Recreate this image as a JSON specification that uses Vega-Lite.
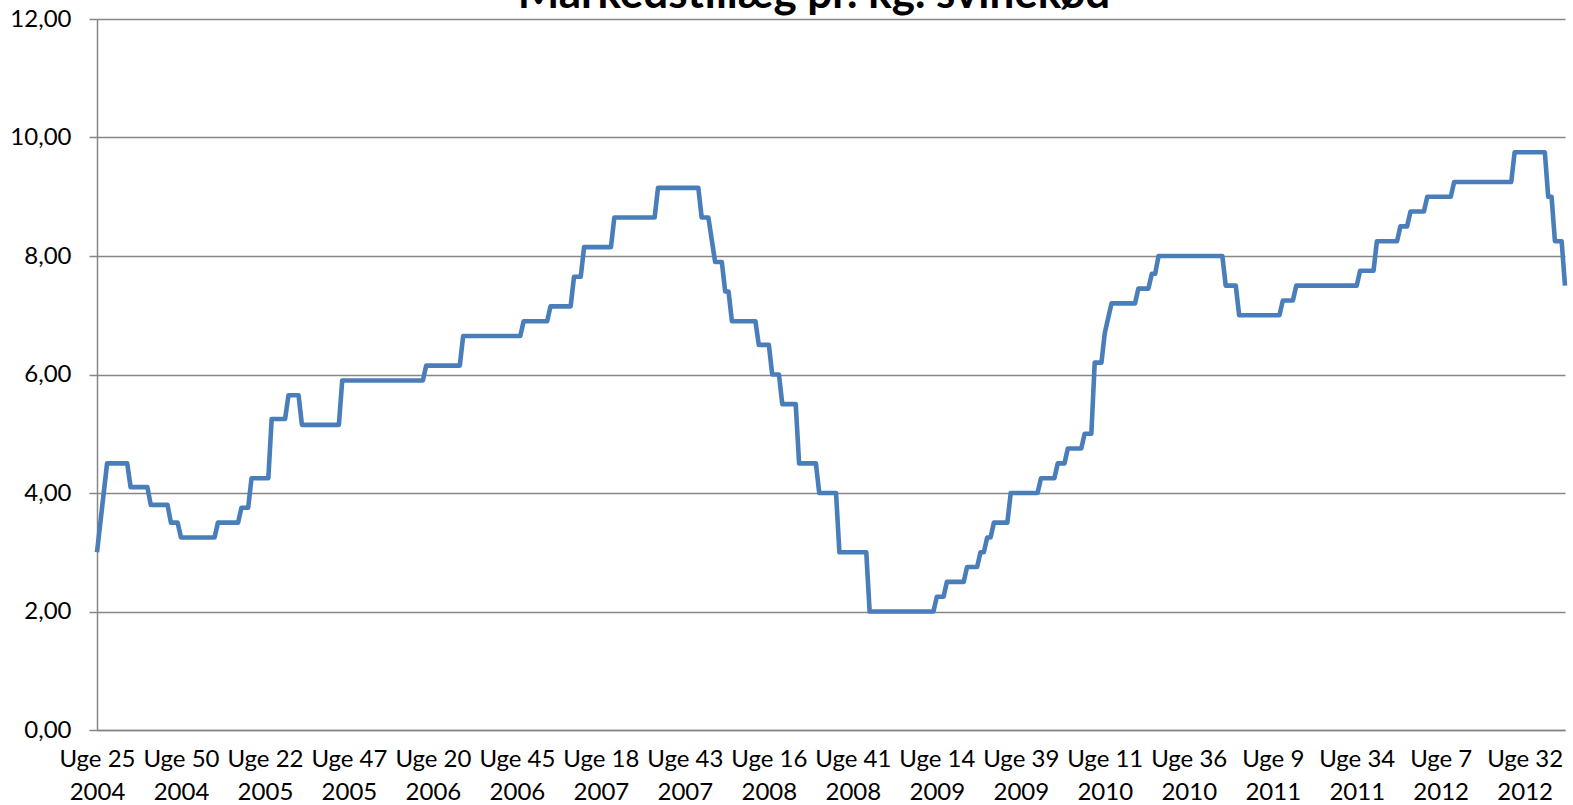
{
  "$schema": "https://vega.github.io/schema/vega-lite/v6.json",
  "width": 1468,
  "height": 711,
  "autosize": {"type": "none"},
  "padding": {"left": 97, "top": 19, "right": 8, "bottom": 75},
  "background": "#ffffff",
  "title": {
    "text": "Markedstillæg pr. kg. svinekød",
    "font": "Lato",
    "fontSize": 44,
    "fontWeight": "bold",
    "color": "#000000",
    "anchor": "middle",
    "frame": "group",
    "baseline": "alphabetic",
    "offset": -44.5,
    "dx": -17
  },
  "config": {"view": {"stroke": null}},
  "data": {
    "values": [
      {"uge": 0, "kr": 3.0}, {"uge": 3, "kr": 4.5}, {"uge": 9, "kr": 4.5}, {"uge": 10, "kr": 4.1},
      {"uge": 15, "kr": 4.1}, {"uge": 16, "kr": 3.8}, {"uge": 21, "kr": 3.8}, {"uge": 22, "kr": 3.5},
      {"uge": 24, "kr": 3.5}, {"uge": 25, "kr": 3.25}, {"uge": 35, "kr": 3.25}, {"uge": 36, "kr": 3.5},
      {"uge": 42, "kr": 3.5}, {"uge": 43, "kr": 3.75}, {"uge": 45, "kr": 3.75}, {"uge": 46, "kr": 4.25},
      {"uge": 51, "kr": 4.25}, {"uge": 52, "kr": 5.25}, {"uge": 56, "kr": 5.25}, {"uge": 57, "kr": 5.65},
      {"uge": 60, "kr": 5.65}, {"uge": 61, "kr": 5.15}, {"uge": 72, "kr": 5.15}, {"uge": 73, "kr": 5.9},
      {"uge": 97, "kr": 5.9}, {"uge": 98, "kr": 6.15}, {"uge": 108, "kr": 6.15}, {"uge": 109, "kr": 6.65},
      {"uge": 126, "kr": 6.65}, {"uge": 127, "kr": 6.9}, {"uge": 134, "kr": 6.9}, {"uge": 135, "kr": 7.15},
      {"uge": 141, "kr": 7.15}, {"uge": 142, "kr": 7.65}, {"uge": 144, "kr": 7.65}, {"uge": 145, "kr": 8.15},
      {"uge": 153, "kr": 8.15}, {"uge": 154, "kr": 8.65}, {"uge": 166, "kr": 8.65}, {"uge": 167, "kr": 9.15},
      {"uge": 179, "kr": 9.15}, {"uge": 180, "kr": 8.65}, {"uge": 182, "kr": 8.65}, {"uge": 184, "kr": 7.9},
      {"uge": 186, "kr": 7.9}, {"uge": 187, "kr": 7.4}, {"uge": 188, "kr": 7.4}, {"uge": 189, "kr": 6.9},
      {"uge": 196, "kr": 6.9}, {"uge": 197, "kr": 6.5}, {"uge": 200, "kr": 6.5}, {"uge": 201, "kr": 6.0},
      {"uge": 203, "kr": 6.0}, {"uge": 204, "kr": 5.5}, {"uge": 208, "kr": 5.5}, {"uge": 209, "kr": 4.5},
      {"uge": 214, "kr": 4.5}, {"uge": 215, "kr": 4.0}, {"uge": 220, "kr": 4.0}, {"uge": 221, "kr": 3.0},
      {"uge": 229, "kr": 3.0}, {"uge": 230, "kr": 2.0}, {"uge": 249, "kr": 2.0}, {"uge": 250, "kr": 2.25},
      {"uge": 252, "kr": 2.25}, {"uge": 253, "kr": 2.5}, {"uge": 258, "kr": 2.5}, {"uge": 259, "kr": 2.75},
      {"uge": 262, "kr": 2.75}, {"uge": 263, "kr": 3.0}, {"uge": 264, "kr": 3.0}, {"uge": 265, "kr": 3.25},
      {"uge": 266, "kr": 3.25}, {"uge": 267, "kr": 3.5}, {"uge": 271, "kr": 3.5}, {"uge": 272, "kr": 4.0},
      {"uge": 280, "kr": 4.0}, {"uge": 281, "kr": 4.25}, {"uge": 285, "kr": 4.25}, {"uge": 286, "kr": 4.5},
      {"uge": 288, "kr": 4.5}, {"uge": 289, "kr": 4.75}, {"uge": 293, "kr": 4.75}, {"uge": 294, "kr": 5.0},
      {"uge": 296, "kr": 5.0}, {"uge": 297, "kr": 6.2}, {"uge": 299, "kr": 6.2}, {"uge": 300, "kr": 6.7},
      {"uge": 302, "kr": 7.2}, {"uge": 309, "kr": 7.2}, {"uge": 310, "kr": 7.45}, {"uge": 313, "kr": 7.45},
      {"uge": 314, "kr": 7.7}, {"uge": 315, "kr": 7.7}, {"uge": 316, "kr": 8.0}, {"uge": 335, "kr": 8.0},
      {"uge": 336, "kr": 7.5}, {"uge": 339, "kr": 7.5}, {"uge": 340, "kr": 7.0}, {"uge": 352, "kr": 7.0},
      {"uge": 353, "kr": 7.25}, {"uge": 356, "kr": 7.25}, {"uge": 357, "kr": 7.5}, {"uge": 375, "kr": 7.5},
      {"uge": 376, "kr": 7.75}, {"uge": 380, "kr": 7.75}, {"uge": 381, "kr": 8.25}, {"uge": 387, "kr": 8.25},
      {"uge": 388, "kr": 8.5}, {"uge": 390, "kr": 8.5}, {"uge": 391, "kr": 8.75}, {"uge": 395, "kr": 8.75},
      {"uge": 396, "kr": 9.0}, {"uge": 403, "kr": 9.0}, {"uge": 404, "kr": 9.25}, {"uge": 421, "kr": 9.25},
      {"uge": 422, "kr": 9.75}, {"uge": 431, "kr": 9.75}, {"uge": 432, "kr": 9.0}, {"uge": 433, "kr": 9.0},
      {"uge": 434, "kr": 8.25}, {"uge": 436, "kr": 8.25}, {"uge": 437, "kr": 7.5}
    ]
  },
  "mark": {"type": "line", "color": "#4A7EBB", "strokeWidth": 4.6, "strokeJoin": "round", "clip": false},
  "encoding": {
    "x": {
      "field": "uge",
      "type": "quantitative",
      "scale": {"domain": [0, 437], "nice": false, "zero": false},
      "axis": {
        "title": null,
        "values": [0, 25, 50, 75, 100, 125, 150, 175, 200, 225, 250, 275, 300, 325, 350, 375, 400, 425],
        "labelExpr": "[['Uge 25','2004'],['Uge 50','2004'],['Uge 22','2005'],['Uge 47','2005'],['Uge 20','2006'],['Uge 45','2006'],['Uge 18','2007'],['Uge 43','2007'],['Uge 16','2008'],['Uge 41','2008'],['Uge 14','2009'],['Uge 39','2009'],['Uge 11','2010'],['Uge 36','2010'],['Uge 9','2011'],['Uge 34','2011'],['Uge 7','2012'],['Uge 32','2012']][round(datum.value/25)]",
        "grid": false,
        "ticks": false,
        "tickSize": 0,
        "domainColor": "#868686",
        "domainWidth": 1.5,
        "labelFont": "Lato",
        "labelFontSize": 24,
        "labelColor": "#000000",
        "labelPadding": 17,
        "labelLineHeight": 33.5,
        "labelBaseline": "top",
        "labelAlign": "center",
        "labelOverlap": false,
        "labelFlush": false,
        "labelBound": false
      }
    },
    "y": {
      "field": "kr",
      "type": "quantitative",
      "scale": {"domain": [0, 12], "nice": false, "zero": true},
      "axis": {
        "title": null,
        "values": [0, 2, 4, 6, 8, 10, 12],
        "labelExpr": "replace(format(datum.value, '.2f'), '.', ',')",
        "grid": true,
        "gridColor": "#868686",
        "gridWidth": 1.3,
        "domainColor": "#868686",
        "domainWidth": 1.5,
        "tickColor": "#868686",
        "tickWidth": 1.5,
        "tickSize": 8,
        "labelFont": "Lato",
        "labelFontSize": 24,
        "labelColor": "#000000",
        "labelPadding": 18,
        "labelAlign": "right",
        "labelBaseline": "middle",
        "labelOverlap": false,
        "labelBound": false
      }
    }
  }
}
